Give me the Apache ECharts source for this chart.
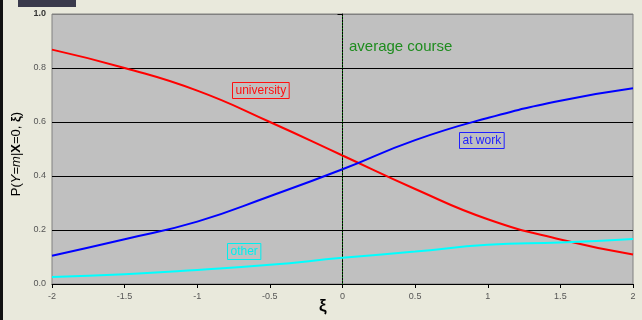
<!DOCTYPE html>
<html>
<head>
<meta charset="utf-8">
<script src="https://cdn.jsdelivr.net/npm/echarts@6/dist/echarts.min.js"></script>
<style>
html,body{margin:0;padding:0;background:#E9E9DC;}
#c{width:642px;height:320px;}
</style>
</head>
<body>
<div id="c"></div>
<script>
const xi = [-2, -1.5, -1, -0.5, 0, 0.5, 1, 1.5, 2];
const university = [0.868, 0.800, 0.716, 0.600, 0.476, 0.352, 0.240, 0.165, 0.109];
const atWork = [0.105, 0.166, 0.231, 0.325, 0.425, 0.533, 0.615, 0.679, 0.725];
const other = [0.026, 0.036, 0.052, 0.071, 0.097, 0.120, 0.145, 0.154, 0.167];

const pairs = ys => xi.map((x, i) => [x, ys[i]]);
const chart = echarts.init(document.getElementById('c'), null, {renderer: 'canvas'});
const font = '"Liberation Sans", Arial, sans-serif';

chart.setOption({
  animation: false,
  backgroundColor: '#E9E9DC',
  grid: {left: 52, right: 9, top: 14, bottom: 36, show: true,
         backgroundColor: '#C0C0C0', borderColor: '#808080', borderWidth: 1},
  xAxis: {
    type: 'value', min: -2, max: 2, interval: 0.5,
    axisLine: {show: true, onZero: false, lineStyle: {color: '#000', width: 1}},
    axisTick: {show: true, length: 4, lineStyle: {color: '#000'}},
    axisLabel: {fontSize: 9, color: '#555', fontFamily: font, margin: 8},
    splitLine: {show: false}
  },
  yAxis: {
    type: 'value', min: 0, max: 1, interval: 0.2,
    axisLine: {show: true, lineStyle: {color: '#000', width: 1}},
    axisTick: {show: true, length: 5, lineStyle: {color: '#000'}},
    axisLabel: {fontSize: 9, color: '#555', fontFamily: font, margin: 6,
      formatter: v => v === 1 ? '{b|1.0}' : v.toFixed(1),
      rich: {b: {fontSize: 9, fontWeight: 'bold', color: '#333', fontFamily: font}}},
    splitLine: {show: true, lineStyle: {color: ['#000', '#000', '#000', '#000', '#000', '#808080'], width: 1}},
    name: '{n|P(}{i|Y}{n|=}{i|m}{n||}{b|X}{n|=0, }{b|ξ}{n|)}',
    nameLocation: 'middle', nameGap: 21, nameRotate: 90,
    nameTextStyle: {
      padding: [0, 10, 0, 0],
      rich: {
        n: {fontSize: 13, color: '#000', fontFamily: font},
        i: {fontSize: 13, color: '#000', fontFamily: font, fontStyle: 'italic'},
        b: {fontSize: 13, color: '#000', fontFamily: font, fontWeight: 'bold'}
      }
    }
  },
  series: [
    {name: 'university', type: 'line', data: pairs(university), smooth: true, showSymbol: false,
     lineStyle: {color: '#FF0000', width: 2}, z: 3,
     markLine: {silent: true, symbol: 'none', label: {show: false},
       lineStyle: {color: '#008000', type: [1, 2], width: 1}, data: [{xAxis: 0}]}},
    {name: 'at work', type: 'line', data: pairs(atWork), smooth: true, showSymbol: false,
     lineStyle: {color: '#0000FF', width: 2}, z: 3},
    {name: 'other', type: 'line', data: pairs(other), smooth: true, showSymbol: false,
     lineStyle: {color: '#00FFFF', width: 2}, z: 3}
  ],
  graphic: [
    {type: 'rect', left: 0, top: 0, shape: {width: 3, height: 320}, style: {fill: '#111'}},
    {type: 'rect', left: 18, top: 0, shape: {width: 58, height: 7}, style: {fill: '#3A3A4C'}},
    {type: 'text', left: 349, top: 39, style: {text: 'average course', fill: '#1E8C1E', font: '15px ' + font}},
    {type: 'text', left: 232, top: 82, z: 10, style: {text: 'university', fill: '#FF1010', font: '12px ' + font,
      borderColor: '#FF1010', borderWidth: 1, padding: [2, 3, 2, 3]}},
    {type: 'text', left: 459, top: 132, z: 10, style: {text: 'at work', fill: '#2020FF', font: '12px ' + font,
      borderColor: '#2020FF', borderWidth: 1, padding: [2, 3, 2, 3]}},
    {type: 'text', left: 227, top: 243, z: 10, style: {text: 'other', fill: '#00EEEE', font: '12px ' + font,
      borderColor: '#00EEEE', borderWidth: 1, padding: [2, 3, 2, 3]}},
    {type: 'text', left: 319, top: 298, style: {text: 'ξ', fill: '#000', font: 'bold 17px ' + font}}
  ]
});
</script>
</body>
</html>
